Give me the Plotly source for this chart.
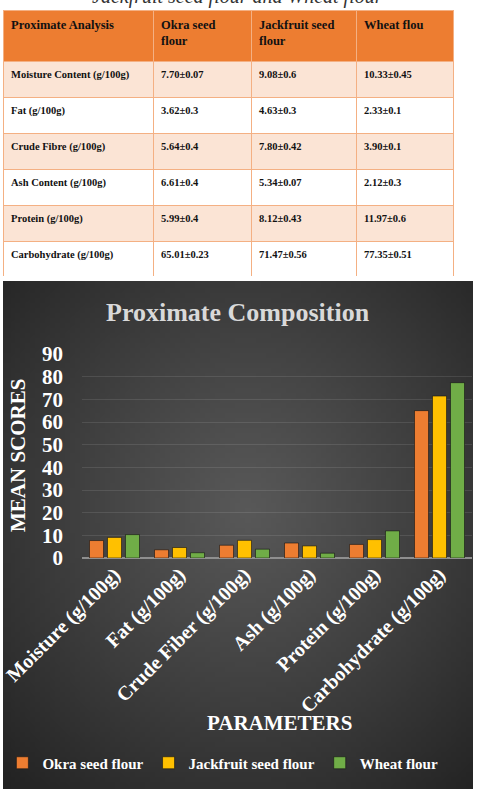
import plotly.graph_objects as go
import zlib, struct, base64, math

# ---------------- data ----------------
table_header = ["Proximate Analysis", "Okra seed<br>flour", "Jackfruit seed<br>flour", "Wheat flou"]
table_rows = ["Moisture Content (g/100g)", "Fat (g/100g)", "Crude Fibre (g/100g)",
              "Ash Content (g/100g)", "Protein (g/100g)", "Carbohydrate (g/100g)"]
table_okra = ["7.70±0.07", "3.62±0.3", "5.64±0.4", "6.61±0.4", "5.99±0.4", "65.01±0.23"]
table_jack = ["9.08±0.6", "4.63±0.3", "7.80±0.42", "5.34±0.07", "8.12±0.43", "71.47±0.56"]
table_wheat = ["10.33±0.45", "2.33±0.1", "3.90±0.1", "2.12±0.3", "11.97±0.6", "77.35±0.51"]

categories = ["Moisture (g/100g)", "Fat (g/100g)", "Crude Fiber (g/100g)",
              "Ash (g/100g)", "Protein (g/100g)", "Carbohydrate (g/100g)"]
okra = [7.70, 3.62, 5.64, 6.61, 5.99, 65.01]
jackfruit = [9.08, 4.63, 7.80, 5.34, 8.12, 71.47]
wheat = [10.33, 2.33, 3.90, 2.12, 11.97, 77.35]
series_names = ["Okra seed flour", "Jackfruit seed flour", "Wheat flour"]
series_colors = ["#ED7D31", "#FFC000", "#70AD47"]
y_ticks = [0, 10, 20, 30, 40, 50, 60, 70, 80, 90]

W, H = 477, 789
SERIF = "Liberation Serif, Times New Roman, serif"


# ------------- background gradient image -------------
def png_data_uri(w, h, fn):
    rows = []
    for yy in range(h):
        row = bytearray([0])
        for xx in range(w):
            row.extend(fn(xx, yy))
        rows.append(bytes(row))
    raw = b"".join(rows)

    def chunk(t, d):
        return struct.pack(">I", len(d)) + t + d + struct.pack(">I", zlib.crc32(t + d) & 0xffffffff)

    png = (b"\x89PNG\r\n\x1a\n"
           + chunk(b"IHDR", struct.pack(">IIBBBBB", w, h, 8, 2, 0, 0, 0))
           + chunk(b"IDAT", zlib.compress(raw, 9))
           + chunk(b"IEND", b""))
    return "data:image/png;base64," + base64.b64encode(png).decode()


GW, GH = 94, 102


def grad(xx, yy):
    nx = (xx + 0.5) / GW - 0.52
    ny = (yy + 0.5) / GH - 0.45
    d = min(math.sqrt(nx * nx + ny * ny) / 0.75, 1.0)
    v = int(round(88 - 54 * d ** 1.1))
    return (v, v, v)


bg_uri = png_data_uri(GW, GH, grad)

# ---------------- figure ----------------
fig = go.Figure()

row_fill = ["#FBE4D5" if i % 2 == 0 else "#FFFFFF" for i in range(len(table_rows))]
fig.add_trace(go.Table(
    domain=dict(x=[3 / W, 453 / W], y=[1 - 277 / H, 1 - 10 / H]),
    columnwidth=[150, 98, 105, 97],
    header=dict(
        values=["<b>%s</b>" % h for h in table_header],
        fill_color="#ED7D31",
        line=dict(color="#F4B083", width=1),
        align="left",
        height=51,
        font=dict(family=SERIF, size=12.5, color="#111111"),
    ),
    cells=dict(
        values=[["<b>%s</b>" % v for v in col] for col in [table_rows, table_okra, table_jack, table_wheat]],
        fill_color=[row_fill] * 4,
        line=dict(color="#F4B083", width=1),
        align="left",
        height=36,
        font=dict(family=SERIF, size=10.5, color="#111111"),
    ),
))

for name, vals, col in zip(series_names, [okra, jackfruit, wheat], series_colors):
    fig.add_trace(go.Bar(
        x=categories, y=vals, name=name,
        marker=dict(color=col, line=dict(color="rgba(20,20,20,0.6)", width=1)),
    ))

fig.update_layout(
    width=W, height=H,
    margin=dict(l=0, r=0, t=0, b=0, autoexpand=False),
    paper_bgcolor="white",
    plot_bgcolor="rgba(0,0,0,0)",
    barmode="group",
    bargap=0.17,
    bargroupgap=0.22,
    showlegend=True,
    legend=dict(
        orientation="h", x=0.005, xanchor="left", y=1 - 763 / H, yanchor="middle",
        font=dict(family=SERIF, size=15, color="white", weight="bold"),
        bgcolor="rgba(0,0,0,0)", itemclick=False,
    ),
    xaxis=dict(
        domain=[82 / W, 472 / W],
        tickangle=-45,
        tickfont=dict(family=SERIF, size=20, color="white", weight="bold"),
        showgrid=False, showline=False, ticks="",
        fixedrange=True, automargin=False,
    ),
    yaxis=dict(
        domain=[1 - 558 / H, 1 - 354 / H],
        range=[0, 90],
        tickvals=y_ticks,
        tickfont=dict(family=SERIF, size=21, color="white", weight="bold"),
        showgrid=True, gridcolor="rgba(255,255,255,0.10)", gridwidth=1,
        zeroline=True, zerolinecolor="#8F8F8F", zerolinewidth=1.5,
        showline=False, ticks="", ticklabelstandoff=18,
        fixedrange=True, automargin=False,
    ),
    images=[dict(
        source=bg_uri, xref="paper", yref="paper",
        x=3 / W, y=1 - 281 / H, sizex=470 / W, sizey=508 / H,
        xanchor="left", yanchor="top", sizing="stretch", layer="below",
    )],
    annotations=[
        dict(text="<i>Jackfruit seed flour and Wheat flour</i>", xref="paper", yref="paper",
             x=237 / W, y=1 - 10 / H, xanchor="center", yanchor="bottom", showarrow=False,
             font=dict(family=SERIF, size=20, color="#333333")),
        dict(text="<b>Proximate Composition</b>", xref="paper", yref="paper",
             x=238 / W, y=1 - 312 / H, xanchor="center", yanchor="middle", showarrow=False,
             font=dict(family=SERIF, size=26, color="#D9D9D9")),
        dict(text="<b>MEAN SCORES</b>", xref="paper", yref="paper", textangle=-90,
             x=18 / W, y=1 - 456 / H, xanchor="center", yanchor="middle", showarrow=False,
             font=dict(family=SERIF, size=21, color="white")),
        dict(text="<b>PARAMETERS</b>", xref="paper", yref="paper",
             x=279 / W, y=1 - 723 / H, xanchor="center", yanchor="middle", showarrow=False,
             font=dict(family=SERIF, size=21, color="white")),
    ],
)

fig.write_html("out.html")
